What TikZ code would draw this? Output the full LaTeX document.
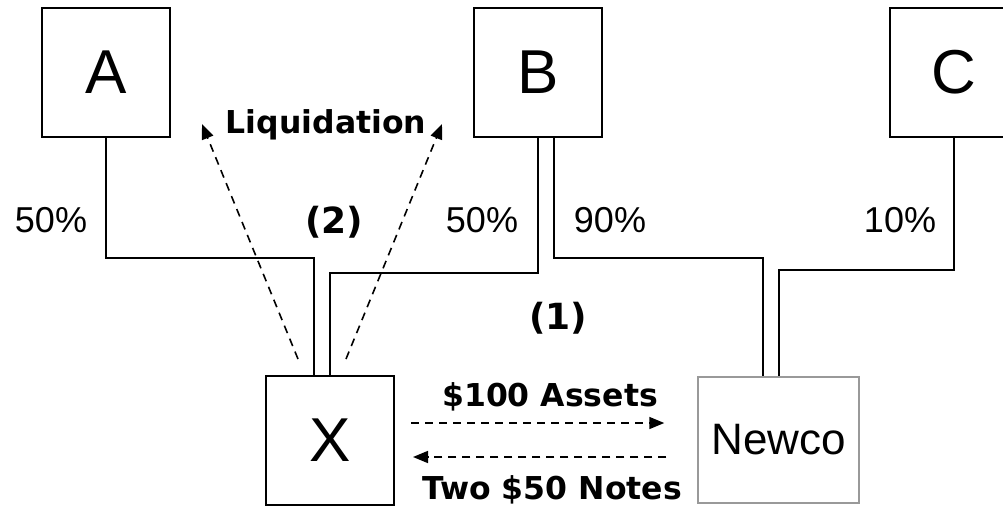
\documentclass[tikz,border=0pt]{standalone}
\usepackage{fontspec}
\setmainfont{Liberation Sans}
\newfontfamily\labelfont{DejaVu Sans}
\usetikzlibrary{arrows.meta,positioning}

\begin{document}
\begin{tikzpicture}[
    x=1pt, y=-1pt,
    ent/.style={draw, line width=2pt, minimum width=128pt, minimum height=129pt, inner sep=0pt, font=\fontsize{62}{62}\selectfont},
    link/.style={line width=2pt},
    flow/.style={line width=1.6pt, dash pattern=on 8pt off 6pt, -{Triangle[length=15pt,width=12pt]}},
    pct/.style={anchor=base, font=\fontsize{36}{36}\selectfont},
    note/.style={anchor=base, font=\labelfont\bfseries\fontsize{31.5}{31.5}\selectfont},
    stepno/.style={note, font=\labelfont\bfseries\fontsize{36}{36}\selectfont},
]
\useasboundingbox (0,0) rectangle (1003,506);
% Shareholders
\node[ent] (A) at (106,72.5) {A};
\node[ent] (B) at (538,72.5) {B};
\node[ent] (C) at (954,72.5) {C};
% Companies
\node[ent] (X) at (330,440.5) {X};
\node[ent, draw=gray!80, line width=1.5pt, minimum width=161pt, minimum height=126pt, font=\fontsize{44}{44}\selectfont] (newco) at (778.5,440) {Newco};
% Ownership lines
\draw[link] (A.south) -- ++(0,120) -| ([xshift=-16pt]X.north);
\draw[link] (B.south) -- ++(0,135) -| (X.north);
\draw[link] ([xshift=16pt]B.south) -- ++(0,120) -| ([xshift=-16pt]newco.north);
\draw[link] (C.south) -- ++(0,132) -| (newco.north);
\node[pct] (pA) at (51,232) {50\%};
\node[pct] (pBX) at (482,232) {50\%};
\node[pct] (pBN) at (610,232) {90\%};
\node[pct] (pC) at (900,232) {10\%};
% Step (2)
\node[note] (liq) at (326,133) {Liquidation};
\node[stepno] (s2) at (334,233) {(2)};
\coordinate (liqL) at (202,124);
\coordinate (liqR) at (442,124);
\draw[flow] ([xshift=-32pt,yshift=16pt]X.north) -- (liqL);
\draw[flow] ([xshift=16pt,yshift=16pt]X.north) -- (liqR);
% Step (1)
\node[stepno] (s1) at (558,329) {(1)};
\node[note] (assets) at (550,406) {\$100 Assets};
\node[note] (notes) at (552,499) {Two \$50 Notes};
\draw[flow] ([xshift=16pt,yshift=17.5pt]X.east) -- ([xshift=-33pt,yshift=17pt]newco.west);
\draw[flow] ([xshift=-31pt,yshift=-17pt]newco.west) -- ([xshift=18pt,yshift=-16.5pt]X.east);
\end{tikzpicture}
\end{document}
